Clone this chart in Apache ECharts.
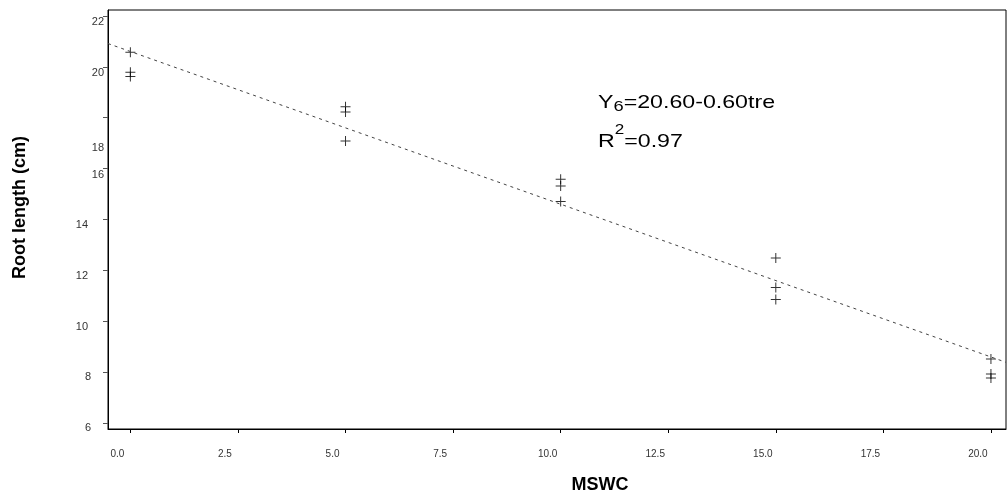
<!DOCTYPE html>
<html>
<head>
<meta charset="utf-8">
<script src="https://cdn.jsdelivr.net/npm/echarts@6/dist/echarts.min.js"></script>
<style>
  html, body { margin: 0; padding: 0; background: #fff; }
  #chart { width: 1008px; height: 499px; }
</style>
</head>
<body>
<div id="chart"></div>
<script>
// Treatment levels (MSWC) and measured root lengths (cm), three replicates each
const mswc = [0, 5, 10, 15, 20];
const rep1 = [20.57, 18.43, 15.58, 12.49, 8.52];
const rep2 = [19.78, 18.22, 15.32, 11.33, 7.93];
const rep3 = [19.62, 17.08, 14.71, 10.86, 7.77];

// Fitted regression Y = a + b * tre
const intercept = 20.60;
const slope = -0.60;
const r2 = 0.97;

// Axis ranges and tick values
const xMin = -0.52, xMax = 20.35;
const yMin = 5.77, yMax = 22.23;
const xTicks = [0, 2.5, 5, 7.5, 10, 12.5, 15, 17.5, 20];
const yTicks = [6, 8, 10, 12, 14, 16, 18, 20, 22];

const points = [];
mswc.forEach((x, i) => {
  points.push([x, rep1[i]], [x, rep2[i]], [x, rep3[i]]);
});
const fit = [xMin, xMax].map(x => [x, intercept + slope * x]);

const plus = 'path://M4.5,0H5.5V4.5H10V5.5H5.5V10H4.5V5.5H0V4.5H4.5Z';
const font = '"Liberation Sans", Arial, sans-serif';

// y tick labels: the upper group sits close to the axis, the lower group further out
function yLabel(v) {
  if (v === 18) return '{low|' + v + '}';
  if (v >= 16) return '{hi|' + v + '}';
  if (v >= 10) return '{lo|' + v + '}';
  return '{lo1|' + v + '}';
}
const yl = { fontFamily: font, fontSize: 11, color: '#333' };

const chart = echarts.init(document.getElementById('chart'));
chart.setOption({
  animation: false,
  backgroundColor: '#fff',
  grid: {
    left: 108, top: 10, right: 2, bottom: 68,
    show: true, borderColor: '#000', borderWidth: 1, backgroundColor: 'transparent'
  },
  xAxis: {
    type: 'value', min: xMin, max: xMax,
    name: 'MSWC', nameLocation: 'middle', nameGap: 47,
    nameTextStyle: { fontFamily: font, fontWeight: 'bold', fontSize: 18, color: '#000', padding: [0, 0, 0, 86] },
    axisLine: { show: true, onZero: false, lineStyle: { color: '#000', width: 1 } },
    axisTick: { show: true, customValues: xTicks, length: 4, lineStyle: { color: '#000' } },
    axisLabel: {
      customValues: xTicks, margin: 20, fontFamily: font, fontSize: 10, color: '#333',
      padding: [0, 26, 0, 0],
      formatter: v => v.toFixed(1)
    },
    splitLine: { show: false }
  },
  yAxis: {
    type: 'value', min: yMin, max: yMax,
    name: 'Root length (cm)', nameLocation: 'middle', nameGap: 79, nameRotate: 90,
    nameTextStyle: { fontFamily: font, fontWeight: 'bold', fontSize: 18, color: '#000', padding: [0, 0, 0, 24] },
    axisLine: { show: true, onZero: false, lineStyle: { color: '#000', width: 1 } },
    axisTick: { show: true, customValues: yTicks, length: 5, lineStyle: { color: '#555' } },
    axisLabel: {
      customValues: yTicks, margin: 4,
      formatter: yLabel,
      rich: {
        hi: Object.assign({ padding: [13, 0, 0, 0] }, yl),
        low: Object.assign({ padding: [60, 0, 0, 0] }, yl),
        lo: Object.assign({ padding: [11, 16, 0, 0] }, yl),
        lo1: Object.assign({ padding: [9, 13, 0, 0] }, yl)
      }
    },
    splitLine: { show: false }
  },
  series: [
    {
      type: 'line',
      data: fit,
      symbol: 'none',
      silent: true,
      lineStyle: { color: '#444', width: 1, type: [3, 4] }
    },
    {
      type: 'scatter',
      data: points,
      symbol: plus,
      symbolSize: 10,
      itemStyle: { color: '#000' }
    }
  ],
  graphic: [
    {
      type: 'text', x: 598, y: 92, scaleX: 1.22,
      style: {
        text: '{n|Y}{s|6}{n|=20.60-0.60tre}',
        rich: {
          n: { fontFamily: font, fontSize: 19, color: '#000' },
          s: { fontFamily: font, fontSize: 15, color: '#000', padding: [7, 0, 0, 0] }
        }
      }
    },
    {
      type: 'text', x: 598, y: 123, scaleX: 1.22,
      style: {
        text: '{n|R}{p|2}{n|=' + r2.toFixed(2) + '}',
        rich: {
          n: { fontFamily: font, fontSize: 19, color: '#000', padding: [8, 0, 0, 0] },
          p: { fontFamily: font, fontSize: 14, color: '#000', padding: [0, 0, 16, 0] }
        }
      }
    }
  ]
});
</script>
</body>
</html>
